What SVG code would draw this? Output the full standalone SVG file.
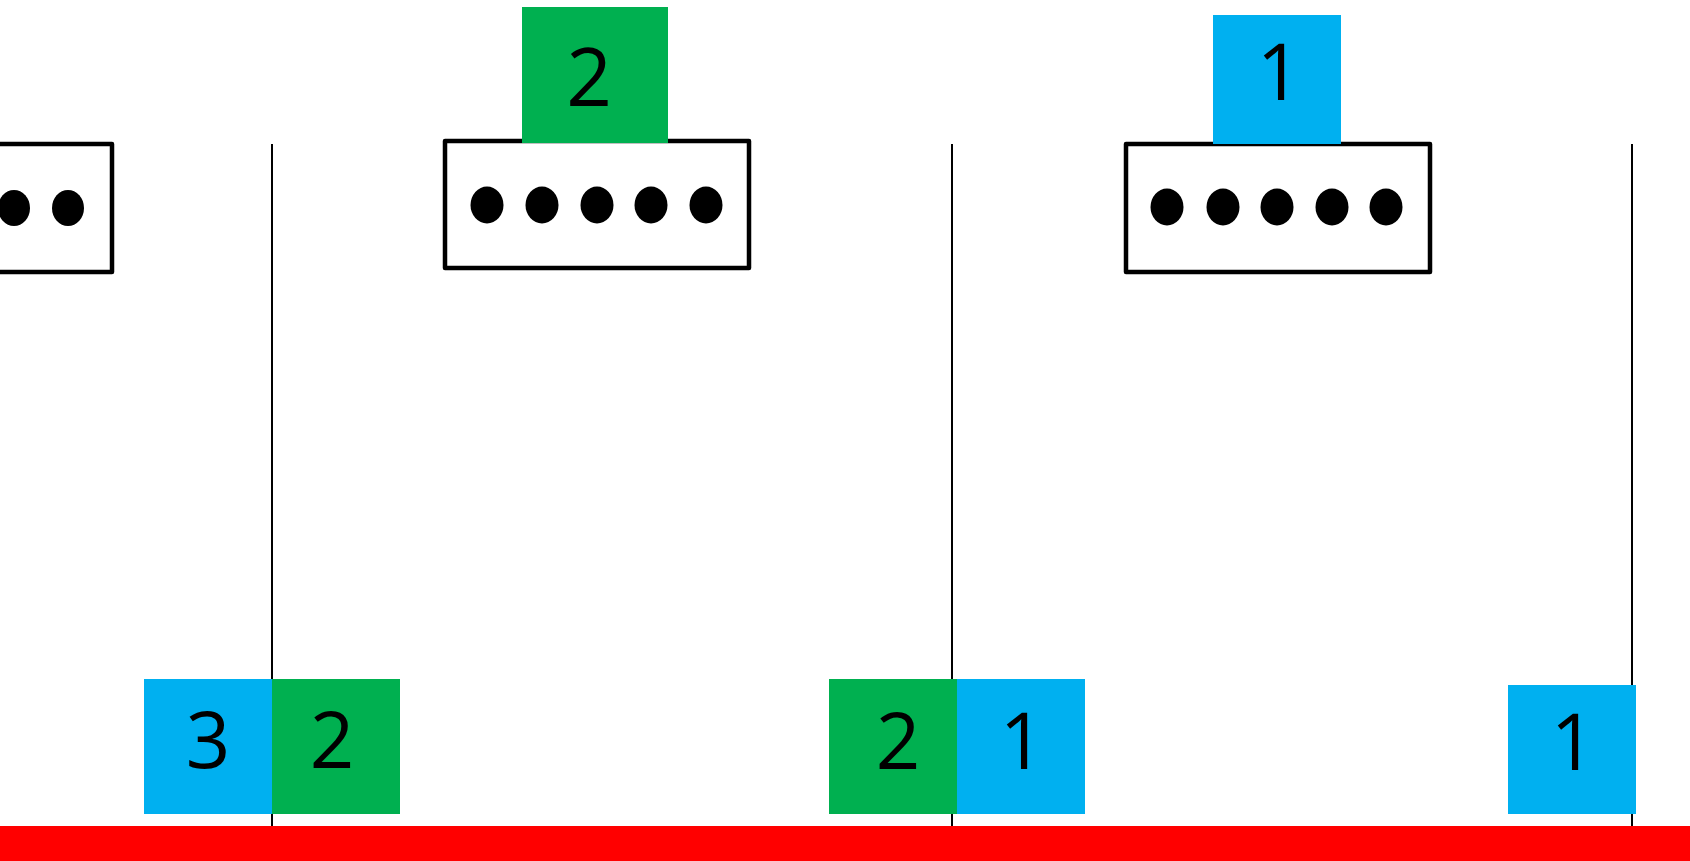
<svg xmlns="http://www.w3.org/2000/svg" width="1690" height="861" viewBox="0 0 1690 861">
<style>
.box{fill:#fff;stroke:#000;stroke-width:4.5;stroke-linejoin:round}
.dot{fill:#000}
.vl{stroke:#000;stroke-width:2}
.g{fill:#00B050}
.b{fill:#00B0F0}
.t{font-family:"Open Sans","Noto Sans",sans-serif;font-size:78px;fill:#000;text-anchor:middle}
</style>
<rect width="1690" height="861" fill="#fff"/>
<g id="connectors">
<line class="vl" x1="272" y1="144" x2="272" y2="828"/>
<line class="vl" x1="952" y1="144" x2="952" y2="828"/>
<line class="vl" x1="1632" y1="144" x2="1632" y2="828"/>
</g>
<g id="buffer-left">
<rect class="box" x="-20" y="144" width="132" height="128"/>
<ellipse class="dot" cx="14" cy="208" rx="16" ry="18"/>
<ellipse class="dot" cx="68" cy="208" rx="16" ry="18"/>
</g>
<g id="buffer-mid">
<rect class="box" x="445" y="141" width="304" height="127"/>
<ellipse class="dot" cx="487" cy="205" rx="16.5" ry="18.5"/>
<ellipse class="dot" cx="542" cy="205" rx="16.5" ry="18.5"/>
<ellipse class="dot" cx="597" cy="205" rx="16.5" ry="18.5"/>
<ellipse class="dot" cx="651" cy="205" rx="16.5" ry="18.5"/>
<ellipse class="dot" cx="706" cy="205" rx="16.5" ry="18.5"/>
</g>
<g id="buffer-right">
<rect class="box" x="1126" y="144" width="304" height="128"/>
<ellipse class="dot" cx="1167" cy="207" rx="16.5" ry="18.5"/>
<ellipse class="dot" cx="1223" cy="207" rx="16.5" ry="18.5"/>
<ellipse class="dot" cx="1277" cy="207" rx="16.5" ry="18.5"/>
<ellipse class="dot" cx="1332" cy="207" rx="16.5" ry="18.5"/>
<ellipse class="dot" cx="1386" cy="207" rx="16.5" ry="18.5"/>
</g>
<g id="packet-top-2">
<rect class="g" x="522" y="7" width="146" height="136"/>
<text class="t" x="589" y="106" style="font-size:80px">2</text>
</g>
<g id="packet-top-1">
<rect class="b" x="1213" y="15" width="128" height="129"/>
<text class="t" x="1279" y="100">1</text>
</g>
<g id="packet-3">
<rect class="b" x="144" y="679" width="128" height="135"/>
<text class="t" x="208" y="768">3</text>
</g>
<g id="packet-2a">
<rect class="g" x="272" y="679" width="128" height="135"/>
<text class="t" x="332" y="768">2</text>
</g>
<g id="packet-2b">
<rect class="g" x="829" y="679" width="128" height="135"/>
<text class="t" x="898" y="769">2</text>
</g>
<g id="packet-1a">
<rect class="b" x="957" y="679" width="128" height="135"/>
<text class="t" x="1022" y="769">1</text>
</g>
<g id="packet-1b">
<rect class="b" x="1508" y="685" width="128" height="129"/>
<text class="t" x="1573" y="770">1</text>
</g>
<rect id="wire" x="0" y="826" width="1690" height="35" fill="#FF0000"/>
</svg>
